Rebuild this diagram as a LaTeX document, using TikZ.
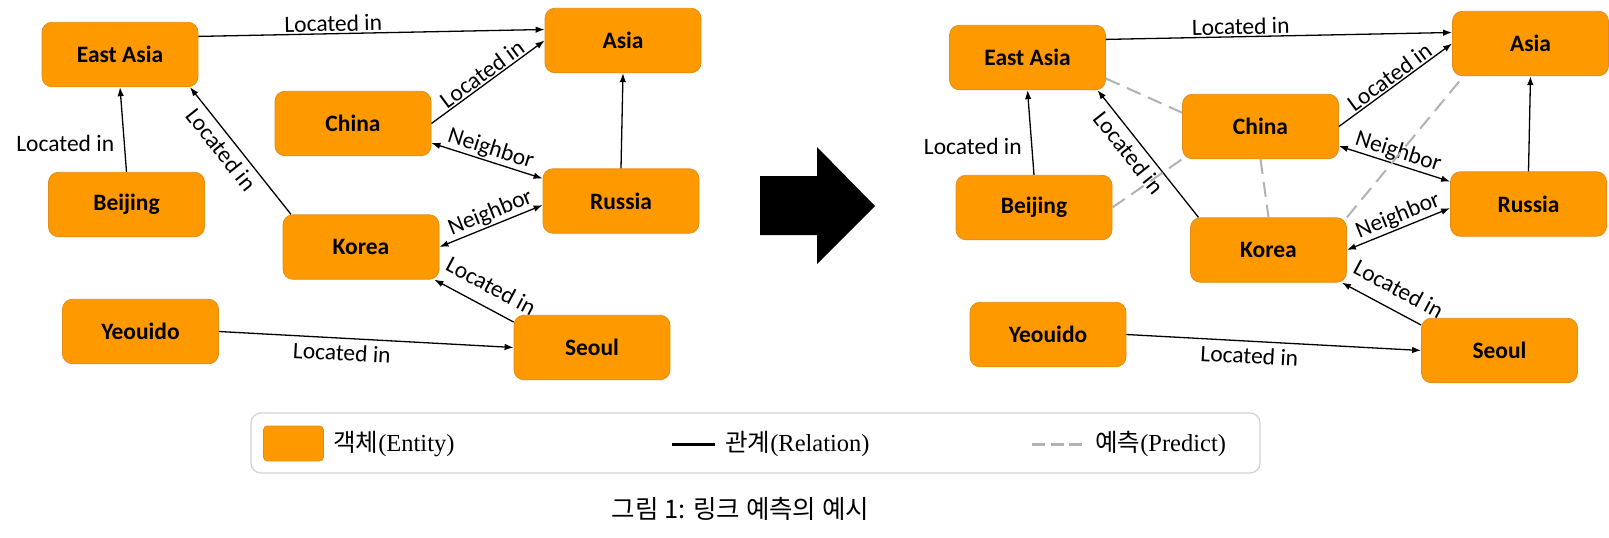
\documentclass[tikz,border=0pt]{standalone}
\usepackage{fontspec}
\usepackage{tikz}
\usetikzlibrary{arrows.meta}
\setmainfont{Carlito}
\newfontfamily\krfont{Noto Sans CJK KR}
\newfontfamily\serfont{Liberation Serif}
\definecolor{entfill}{RGB}{255,153,0}
\definecolor{entline}{RGB}{226,140,24}
\definecolor{predgray}{RGB}{178,178,178}
\definecolor{boxgray}{RGB}{212,212,212}

\begin{document}
\begin{tikzpicture}[x=1pt, y=-1pt, >={Latex[length=9pt,width=6.5pt]},
		entity/.style={draw=entline, line width=0.8pt, fill=entfill, rounded corners=10pt, minimum width=156pt, minimum height=64.5pt, inner sep=0pt, font=\fontsize{23.5}{28}\selectfont\bfseries},
		rel/.style={line width=1.3pt},
		lbl/.style={font=\fontsize{23.5}{28}\selectfont, inner sep=1.5pt},
		pred/.style={draw=predgray, line width=2pt, dash pattern=on 15pt off 8pt},
		keytxt/.style={anchor=west, inner sep=0pt, font=\fontsize{24.5}{28}\selectfont}]
	\useasboundingbox (0,0) rectangle (1609,538);

	\foreach \side/\dx/\dy in {l/0/0, r/907.5/3} {
		\begin{scope}[shift={(\dx,\dy)}]
			\node[entity] (ea\side) at (120,54.5) {East Asia};
			\node[entity] (as\side) at (623,40.5) {Asia};
			\node[entity] (ch\side) at (353,123.5) {China};
			\node[entity] (be\side) at (126.5,204.5) {Beijing};
			\node[entity] (ru\side) at (621,201) {Russia};
			\node[entity] (ko\side) at (361,247) {Korea};
			\node[entity] (ye\side) at (140.5,331.5) {Yeouido};
			\node[entity] (se\side) at (592,347.5) {Seoul};

			\draw[rel, ->] (ea\side.13) -- (as\side.172) node[lbl, pos=0.39, sloped, above] {Located in}; % East Asia -> Asia
			\draw[rel, ->] (be\side.north) -- (ea\side.south) node[lbl, pos=0.34, left=8pt] {Located in}; % Beijing -> East Asia
			\draw[rel, ->] (ko\side.155) -- (ea\side.335) node[lbl, pos=0.58, sloped, below=4pt] {Located in}; % Korea -> East Asia
			\draw[rel, ->] (ch\side.east) -- (as\side.west) node[lbl, midway, sloped, above] {Located in}; % China -> Asia
			\draw[rel, <->] (ch\side.346) -- (ru\side.164) node[lbl, midway, sloped, above] {Neighbor}; % China <-> Russia
			\draw[rel, <->] (ko\side.east) -- (ru\side.183) node[lbl, pos=0.54, sloped, above] {Neighbor}; % Korea <-> Russia
			\draw[rel, ->] (se\side.162) -- (ko\side.336) node[lbl, pos=0.41, sloped, above=11pt] {Located in}; % Seoul -> Korea
			\draw[rel, ->] (ye\side.east) -- (se\side.west) node[lbl, pos=0.42, sloped, below=4pt] {Located in}; % Yeouido -> Seoul
			\draw[rel, ->] (ru\side.north) -- (as\side.south); % Russia -> Asia
		\end{scope}
	}

	% predicted links
	\draw[pred] (ear.345) -- (chr.170);
	\draw[pred] (ber.east) -- (chr.south west);
	\draw[pred] (chr.south) -- (kor.north);
	\draw[pred] (kor.north east) -- (asr.206);

	% big arrow
	\fill (760,176) -- (817,176) -- (817,147) -- (875,206) -- (817,264) -- (817,235) -- (760,235) -- cycle;

	% legend
	\node[draw=boxgray, line width=1.3pt, rounded corners=10pt, minimum width=1009pt, minimum height=60pt, inner sep=0pt] (legend) at (755.5,443) {};
	\node[entity, minimum width=60pt, minimum height=35pt, rounded corners=4pt] (keyent) at (293.5,443.5) {};
	\node[keytxt] (keyenttxt) at (333,444) {{\krfont 객체}{\serfont(Entity)}};
	\coordinate (relA) at (672,444);
	\coordinate (relB) at (715,444);
	\draw[line width=3pt] (relA) -- (relB);
	\node[keytxt] (keyreltxt) at (725,444) {{\krfont 관계}{\serfont(Relation)}};
	\coordinate (predA) at (1032,444);
	\coordinate (predB) at (1082,444);
	\draw[predgray, line width=3pt, dash pattern=on 13pt off 5.5pt] (predA) -- (predB);
	\node[keytxt] (keypredtxt) at (1095,444) {{\krfont 예측}{\serfont(Predict)}};

	\node[font=\krfont\fontsize{25.5}{30}\selectfont] (caption) at (740.5,509) {그림 1: 링크 예측의 예시};
\end{tikzpicture}
\end{document}
